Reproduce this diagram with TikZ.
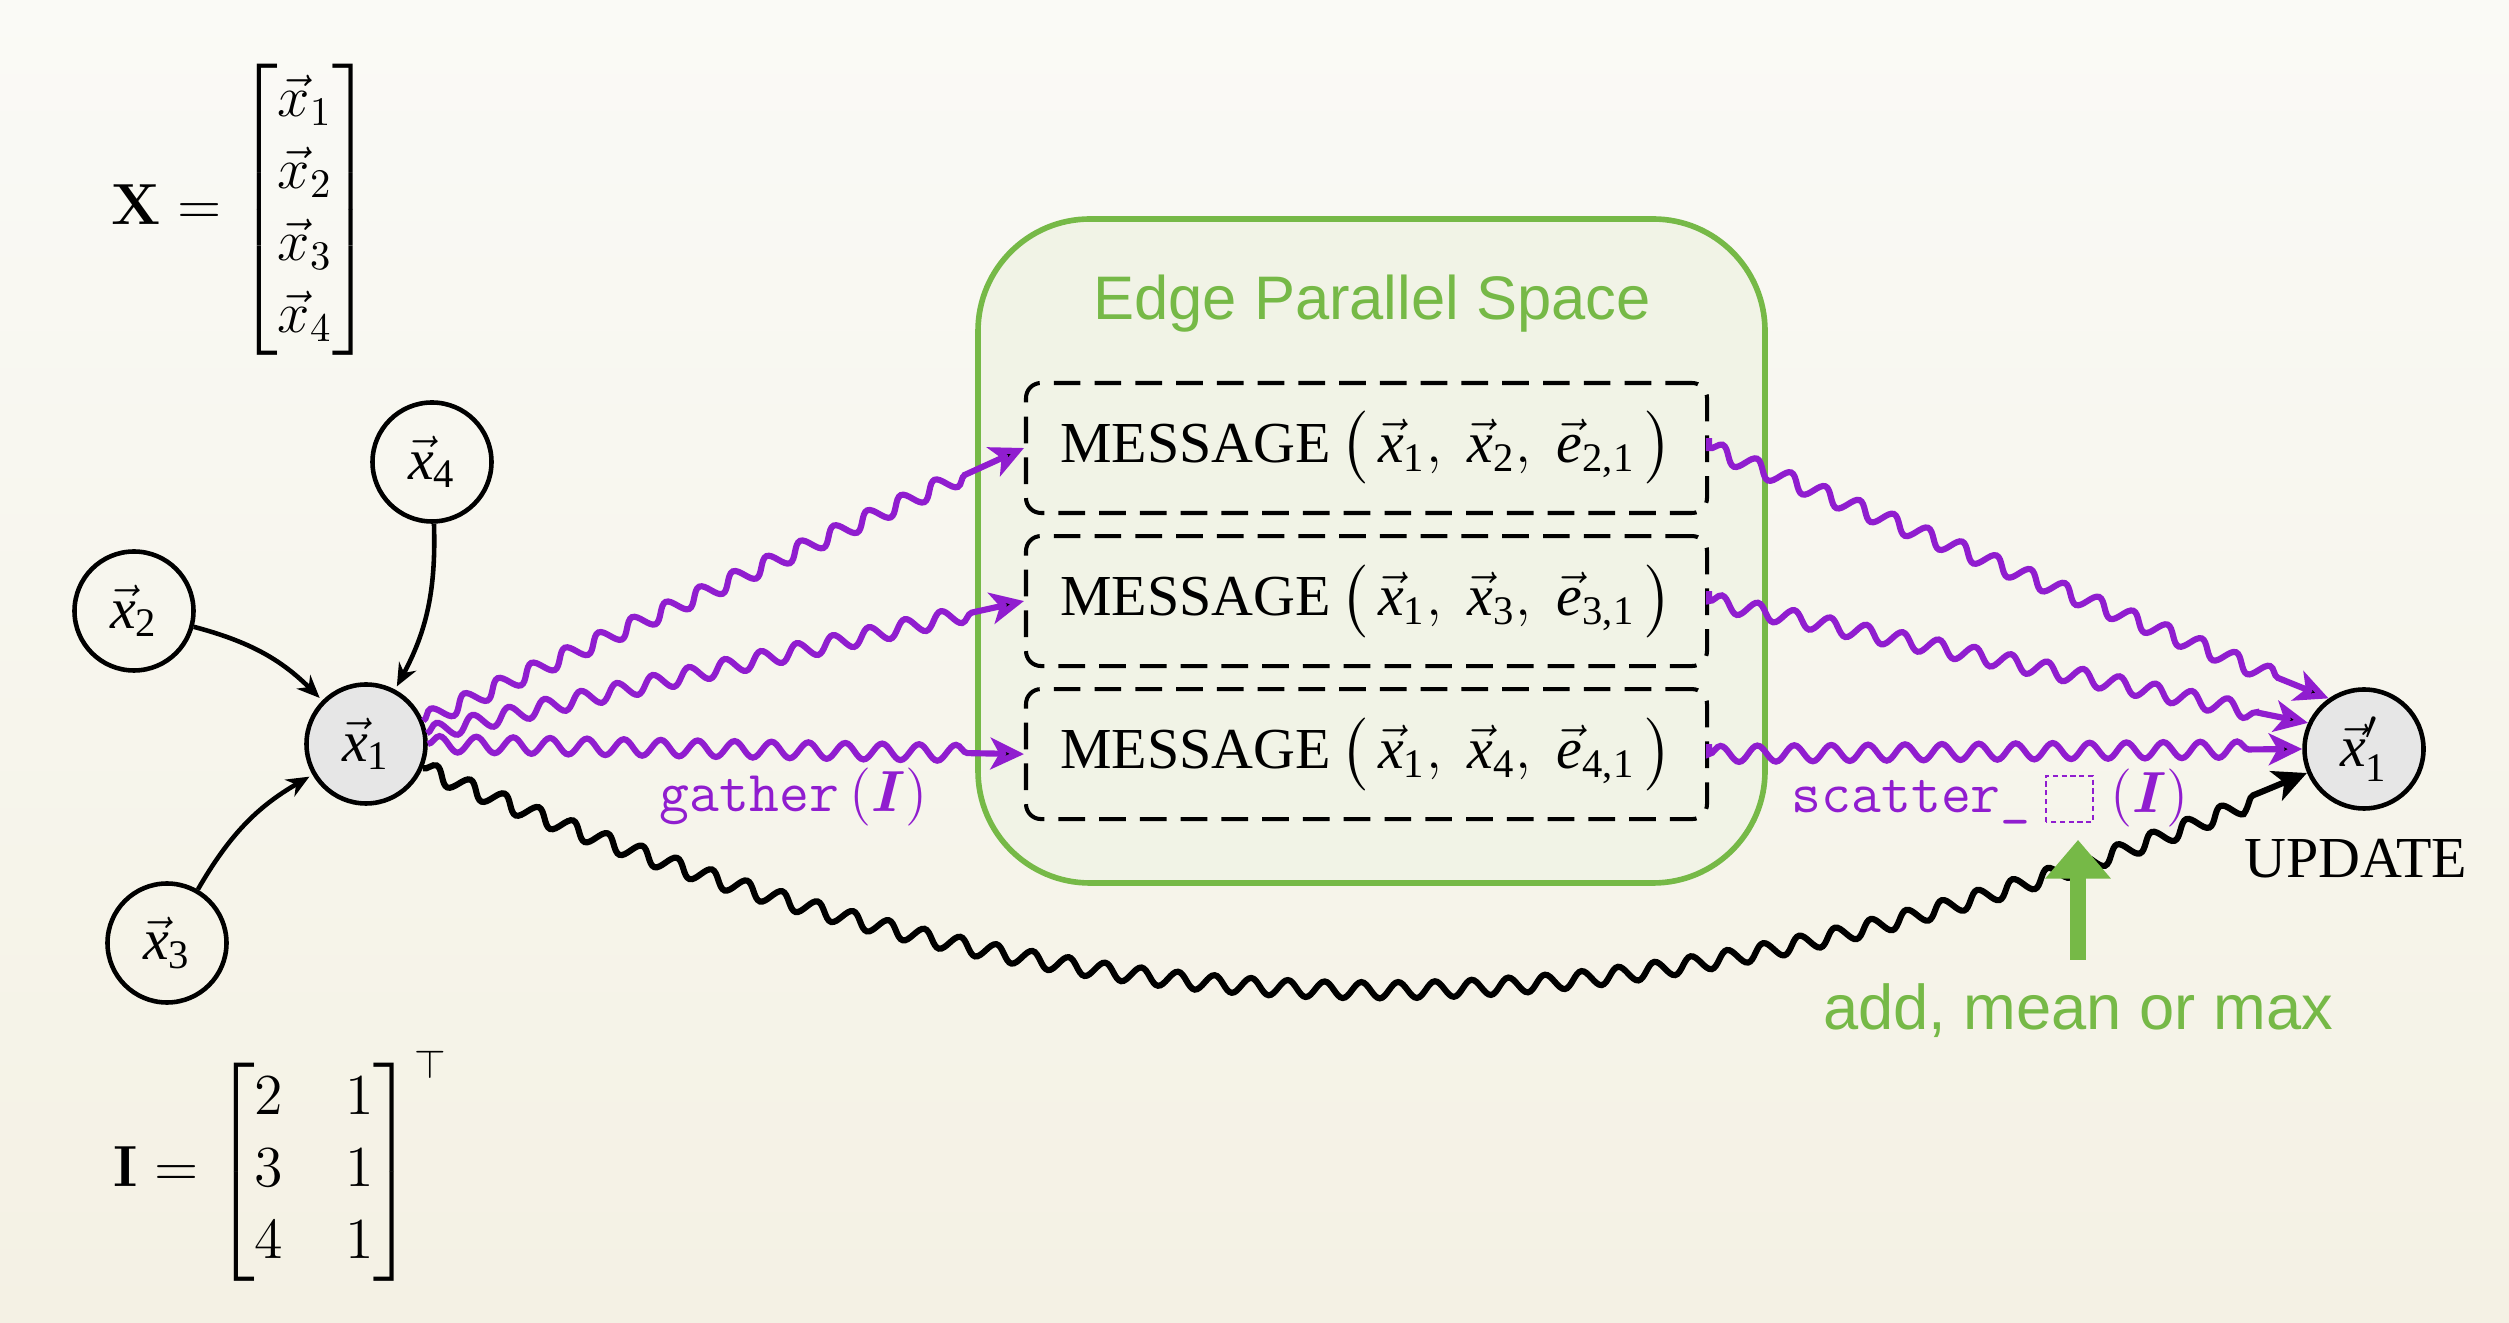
\RequirePackage{fix-cm}
\documentclass[tikz,border=0pt]{standalone}
\usepackage{amsmath}
\usepackage[no-math]{fontspec}
\setmainfont{Liberation Serif}
\newfontfamily\sansfont{Liberation Sans}
\usetikzlibrary{arrows.meta,automata,positioning,decorations.pathmorphing}

\definecolor{wavepurple}{RGB}{144,29,207}
\definecolor{spacegreen}{RGB}{118,185,71}
\definecolor{spacefill}{RGB}{241,243,230}
\definecolor{nodegray}{RGB}{230,230,230}
\definecolor{bgtop}{RGB}{250,250,246}
\definecolor{bgbottom}{RGB}{244,241,228}

\newcommand{\vx}[1]{\vec{\textit{x}}_{\textrm{#1}}}
\newcommand{\ve}[1]{\vec{\textit{e}}_{\textrm{#1}}}
\newcommand{\msg}[3]{MESSAGE\,$\big(\,\vx{#1},\;\vx{#2},\;\ve{#3}\,\big)$}

\begin{document}
\begin{tikzpicture}[>={Stealth[length=6.5pt,width=5.5pt]}, shorten >=1pt, node distance=0.19cm,
    every node/.style={font=\fontsize{16.5}{20.5}\selectfont},
    every state/.style={draw, line width=1.3pt, minimum size=1.19cm, inner sep=0pt},
    mathlbl/.style={anchor=west, inner sep=0pt},
    msgbox/.style={draw, line width=1.15pt, dash pattern=on 7.6pt off 4pt, rounded corners=0.15cm,
        minimum width=6.81cm, minimum height=1.3cm},
    spacebox/.style={draw=spacegreen, line width=1.6pt, fill=spacefill, rounded corners=1.12cm,
        minimum width=7.87cm, minimum height=6.64cm},
    greentext/.style={text=spacegreen, font=\sansfont\fontsize{17.5}{21}\selectfont},
    opname/.style={text=wavepurple},
    wave/.style={->, >={Stealth[length=9.5pt,width=9pt,inset=2.5pt]}, line width=1.75pt, draw=wavepurple,
        shorten >=0pt, decorate, decoration={snake, amplitude=2.3pt, segment length=10.5pt, post length=15pt}},
    aggarrow/.style={-{Triangle[length=11pt,width=18pt]}, draw=spacegreen, line width=4.5pt,
        shorten >=0pt, shorten <=0.12cm}]

    % Background
    \shade [top color=bgtop, bottom color=bgbottom] (0,0) rectangle (25.09,13.22);
    \useasboundingbox (0,0) rectangle (25.09,13.22);

    % Matrices
    \node [mathlbl] (Xmat) at (1.11,11.12)
        {$\mathbf{X}=\begin{bmatrix}\vec{x}_1\\\vec{x}_2\\\vec{x}_3\\\vec{x}_4\end{bmatrix}$};
    \node [mathlbl] (Imat) at (1.13,1.56)
        {\arraycolsep=8.8pt$\mathbf{I}=\begin{bmatrix}2&1\\3&1\\4&1\end{bmatrix}^{\top}$};

    % Nodes {x1, x2, x3, x4, x1'}
    \node [state, fill=nodegray] (x1)  at (3.66,5.78)  {$\vx{1}$};
    \node [state]                (x2)  at (1.34,7.11)  {$\vx{2}$};
    \node [state]                (x3)  at (1.67,3.79)  {$\vx{3}$};
    \node [state]                (x4)  at (4.32,8.60)  {$\vx{4}$};
    \node [state, fill=nodegray] (x1p) at (23.64,5.73) {$\vec{\textit{x}}'_{\textrm{1}}$};
    \node (upd) [below=0.16cm of x1p, xshift=-0.08cm] {UPDATE};

    % Edge parallel space
    \node [spacebox] (space) at (13.715,7.71) {};
    \node [greentext, anchor=base] (title) at (13.72,10.02) {Edge Parallel Space};
    \node [msgbox] (m1) at (13.665,8.74) {\msg{1}{2}{2,1}};
    \node [msgbox] (m2) [below=of m1]     {\msg{1}{3}{3,1}};
    \node [msgbox] (m3) [below=of m2]     {\msg{1}{4}{4,1}};

    % Labels
    \node [opname, anchor=base] (gath) at (7.94,5.10) {\texttt{gather}\hspace{3pt}$(\boldsymbol{I})$};
    \node [opname, anchor=base] (scat) at (19.90,5.09) {\texttt{scatter\_}\hspace{4pt}\tikz[baseline=0pt]
        \draw [wavepurple, line width=0.6pt, dash pattern=on 1.5pt off 1pt, shorten >=0pt]
        (0pt,-2.5pt) rectangle (13.5pt,10.5pt);\hspace{4.5pt}$(\boldsymbol{I})$};
    \node [greentext, anchor=base, font=\sansfont\fontsize{18}{21}\selectfont] (agg) at (20.78,2.92)
        {add, mean or max};

    % Paths
    \path [->, line width=1.3pt] (x2) edge [bend left=15] (x1);
    \path [->, line width=1.3pt] (x3) edge [bend left=15] (x1);
    \path [->, line width=1.3pt] (x4) edge [bend left=15] (x1);

    \draw [wave] (x1.22)   -- (m1.west);
    \draw [wave] (x1.10)   -- (m2.west);
    \draw [wave] (x1.east) -- (m3.west);
    \draw [wave, shorten <=2.8pt] (m1.east) -- (x1p.125);
    \draw [wave, shorten <=2.8pt] (m2.east) -- (x1p.155);
    \draw [wave, shorten <=2.8pt] (m3.east) -- (x1p.west);
    \draw [wave, draw=black, decoration={post length=14pt}] (x1) to [bend right=23] (x1p);

    \draw [aggarrow] (agg) -- (agg |- scat.south);
\end{tikzpicture}
\end{document}
